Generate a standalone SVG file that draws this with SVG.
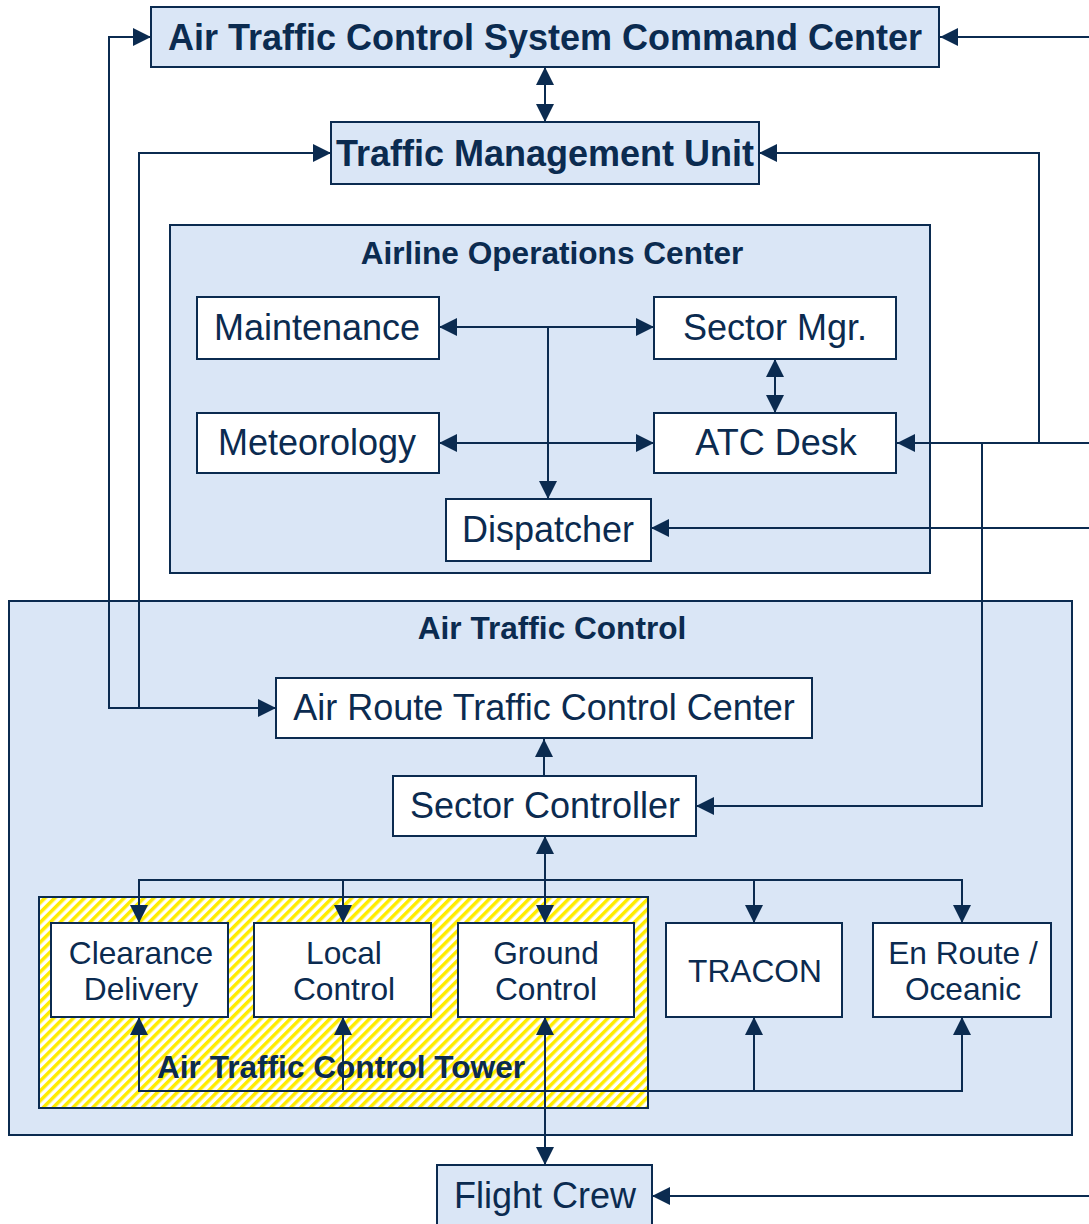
<svg xmlns="http://www.w3.org/2000/svg" width="1089" height="1224" viewBox="0 0 1089 1224">
<defs>
<style>
.box{stroke:#0b2b50;stroke-width:2;}
.blue{fill:#dae6f6;}
.white{fill:#ffffff;}
.t{font-family:"Liberation Sans",Arial,sans-serif;fill:#0b2b50;text-anchor:middle;}
.big{font-size:36px;}
.bigb{font-size:36px;font-weight:bold;}
.ttl{font-size:31.6px;font-weight:bold;}
.sm{font-size:31.7px;}
.c{fill:none;stroke:#0b2b50;stroke-width:2;}
.e{marker-end:url(#ah);}
.d{marker-start:url(#ah);marker-end:url(#ah);}
</style>
<marker id="ah" markerUnits="userSpaceOnUse" markerWidth="18" markerHeight="18" viewBox="0 0 17 17" refX="17" refY="8.5" orient="auto-start-reverse">
<path d="M0,0 L17,8.5 L0,17 z" fill="#0b2b50"/>
</marker>
<pattern id="hatch" patternUnits="userSpaceOnUse" width="7" height="7" patternTransform="rotate(45)">
<rect width="7" height="7" fill="#ffffff"/>
<rect width="3.5" height="7" fill="#ffec00"/>
</pattern>
</defs>
<rect width="1089" height="1224" fill="#ffffff"/>

<g id="aoc">
<rect class="box blue" x="170" y="225" width="760" height="348"/>
<text class="t ttl" x="552" y="264">Airline Operations Center</text>
</g>
<g id="atc">
<rect class="box blue" x="9" y="601" width="1063" height="534"/>
<text class="t ttl" x="552" y="639">Air Traffic Control</text>
</g>
<g id="tower">
<rect class="box" fill="url(#hatch)" x="39" y="897" width="609" height="211"/>
</g>

<g id="connectors">
<path class="c d" d="M545,67 V122"/>
<path class="c d" d="M276,708 H109 V37 H151"/>
<path class="c e" d="M139,708 V153 H331"/>
<path class="c e" d="M1089,37 H940"/>
<path class="c e" d="M1089,443 H897"/>
<path class="c e" d="M1039,443 V153 H759"/>
<path class="c e" d="M982,443 V806 H696"/>
<path class="c e" d="M1089,528 H651"/>
<path class="c e" d="M1089,1196 H652"/>
<path class="c d" d="M439,327 H654"/>
<path class="c d" d="M439,443 H654"/>
<path class="c e" d="M548,327 V499"/>
<path class="c d" d="M775,359 V413"/>
<path class="c e" d="M544,776 V739"/>
<path class="c d" d="M545,836 V923"/>
<path class="c d" d="M139,923 V880 H962 V923"/>
<path class="c e" d="M343,880 V923"/>
<path class="c e" d="M754,880 V923"/>
<path class="c d" d="M139,1017 V1091 H962 V1017"/>
<path class="c e" d="M343,1091 V1017"/>
<path class="c e" d="M754,1091 V1017"/>
<path class="c d" d="M545,1017 V1165"/>
</g>

<g id="tower-label">
<text class="t ttl" x="341" y="1078">Air Traffic Control Tower</text>
</g>

<g id="atcscc">
<rect class="box blue" x="151" y="7" width="788" height="60"/>
<text class="t bigb" x="545" y="50">Air Traffic Control System Command Center</text>
</g>
<g id="tmu">
<rect class="box blue" x="331" y="122" width="428" height="62"/>
<text class="t bigb" x="545" y="166">Traffic Management Unit</text>
</g>
<g id="maintenance">
<rect class="box white" x="197" y="297" width="242" height="62"/>
<text class="t big" x="317" y="340">Maintenance</text>
</g>
<g id="sectormgr">
<rect class="box white" x="654" y="297" width="242" height="62"/>
<text class="t big" x="775" y="340">Sector Mgr.</text>
</g>
<g id="meteorology">
<rect class="box white" x="197" y="413" width="242" height="60"/>
<text class="t big" x="317" y="455">Meteorology</text>
</g>
<g id="atcdesk">
<rect class="box white" x="654" y="413" width="242" height="60"/>
<text class="t big" x="776" y="455">ATC Desk</text>
</g>
<g id="dispatcher">
<rect class="box white" x="446" y="499" width="205" height="62"/>
<text class="t big" x="548" y="542">Dispatcher</text>
</g>
<g id="artcc">
<rect class="box white" x="276" y="678" width="536" height="60"/>
<text class="t big" x="544" y="720">Air Route Traffic Control Center</text>
</g>
<g id="sectorcontroller">
<rect class="box white" x="393" y="776" width="303" height="60"/>
<text class="t big" x="545" y="818">Sector Controller</text>
</g>
<g id="clearance">
<rect class="box white" x="51" y="923" width="177" height="94"/>
<text class="t sm" x="141" y="964">Clearance</text>
<text class="t sm" x="141" y="1000">Delivery</text>
</g>
<g id="local">
<rect class="box white" x="254" y="923" width="177" height="94"/>
<text class="t sm" x="344" y="964">Local</text>
<text class="t sm" x="344" y="1000">Control</text>
</g>
<g id="ground">
<rect class="box white" x="458" y="923" width="176" height="94"/>
<text class="t sm" x="546" y="964">Ground</text>
<text class="t sm" x="546" y="1000">Control</text>
</g>
<g id="tracon">
<rect class="box white" x="666" y="923" width="176" height="94"/>
<text class="t sm" x="755" y="982">TRACON</text>
</g>
<g id="enroute">
<rect class="box white" x="873" y="923" width="178" height="94"/>
<text class="t sm" x="963" y="964">En Route /</text>
<text class="t sm" x="963" y="1000">Oceanic</text>
</g>
<g id="flightcrew">
<rect class="box blue" x="437" y="1165" width="215" height="70"/>
<text class="t big" x="545" y="1208">Flight Crew</text>
</g>
</svg>
